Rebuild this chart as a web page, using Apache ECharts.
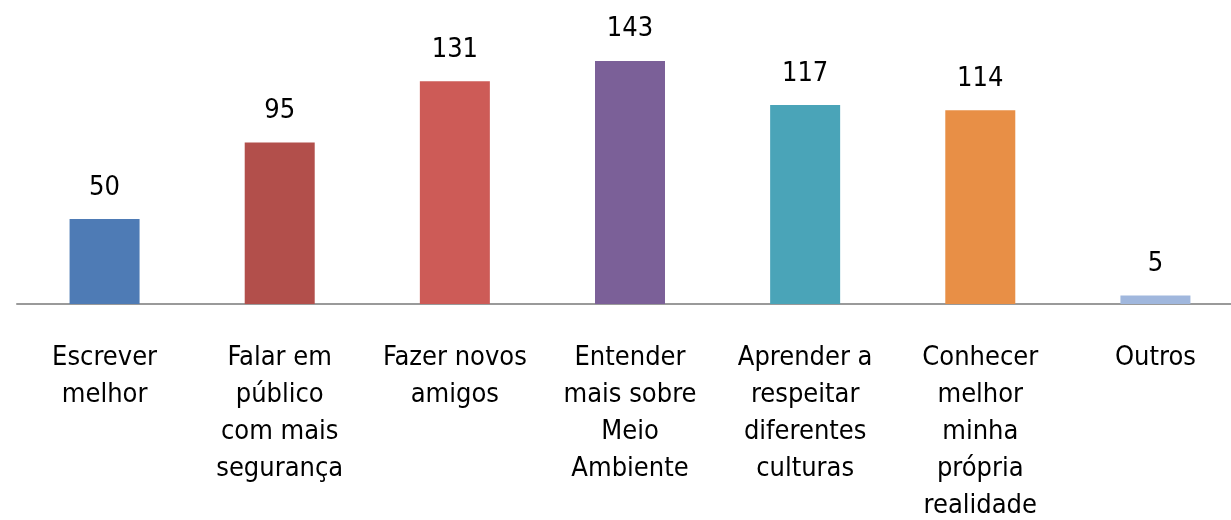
<!DOCTYPE html>
<html>
<head>
<meta charset="utf-8">
<script src="https://cdn.jsdelivr.net/npm/echarts@6/dist/echarts.min.js"></script>
<style>
  html, body { margin: 0; padding: 0; background: #fff; }
  #chart { width: 1231px; height: 520px; }
</style>
</head>
<body>
<div id="chart"></div>
<script>
var categories = [
  "Escrever\nmelhor",
  "Falar em\npúblico\ncom mais\nsegurança",
  "Fazer novos\namigos",
  "Entender\nmais sobre\nMeio\nAmbiente",
  "Aprender a\nrespeitar\ndiferentes\nculturas",
  "Conhecer\nmelhor\nminha\nprópria\nrealidade",
  "Outros"
];
var values = [50, 95, 131, 143, 117, 114, 5];
var colors = ["#4e7bb5", "#b24f4b", "#cd5b57", "#7b6098", "#4aa4b8", "#e88f46", "#a0b7dd"];

var font = "'DejaVu Sans Condensed', 'DejaVu Sans', sans-serif";
var chart = echarts.init(document.getElementById("chart"));
chart.setOption({
  animation: false,
  grid: { left: 17, right: -12, top: 32, bottom: 216, outerBoundsMode: "none", containLabel: false },
  xAxis: {
    type: "category",
    data: categories,
    axisLine: { lineStyle: { color: "#9a9a9a", width: 2 } },
    axisTick: { show: false },
    axisLabel: {
      interval: 0,
      margin: 35,
      color: "#000",
      fontFamily: font,
      fontSize: 27,
      lineHeight: 37,
      align: "center",
      verticalAlign: "top"
    }
  },
  yAxis: {
    type: "value",
    min: 0,
    max: 160,
    show: false,
    splitLine: { show: false }
  },
  series: [{
    type: "bar",
    barWidth: 70,
    data: values.map(function (v, i) {
      return { value: v, itemStyle: { color: colors[i] } };
    }),
    label: {
      show: true,
      position: "top",
      distance: 18,
      color: "#000",
      fontFamily: font,
      fontSize: 27
    }
  }]
});
</script>
</body>
</html>
